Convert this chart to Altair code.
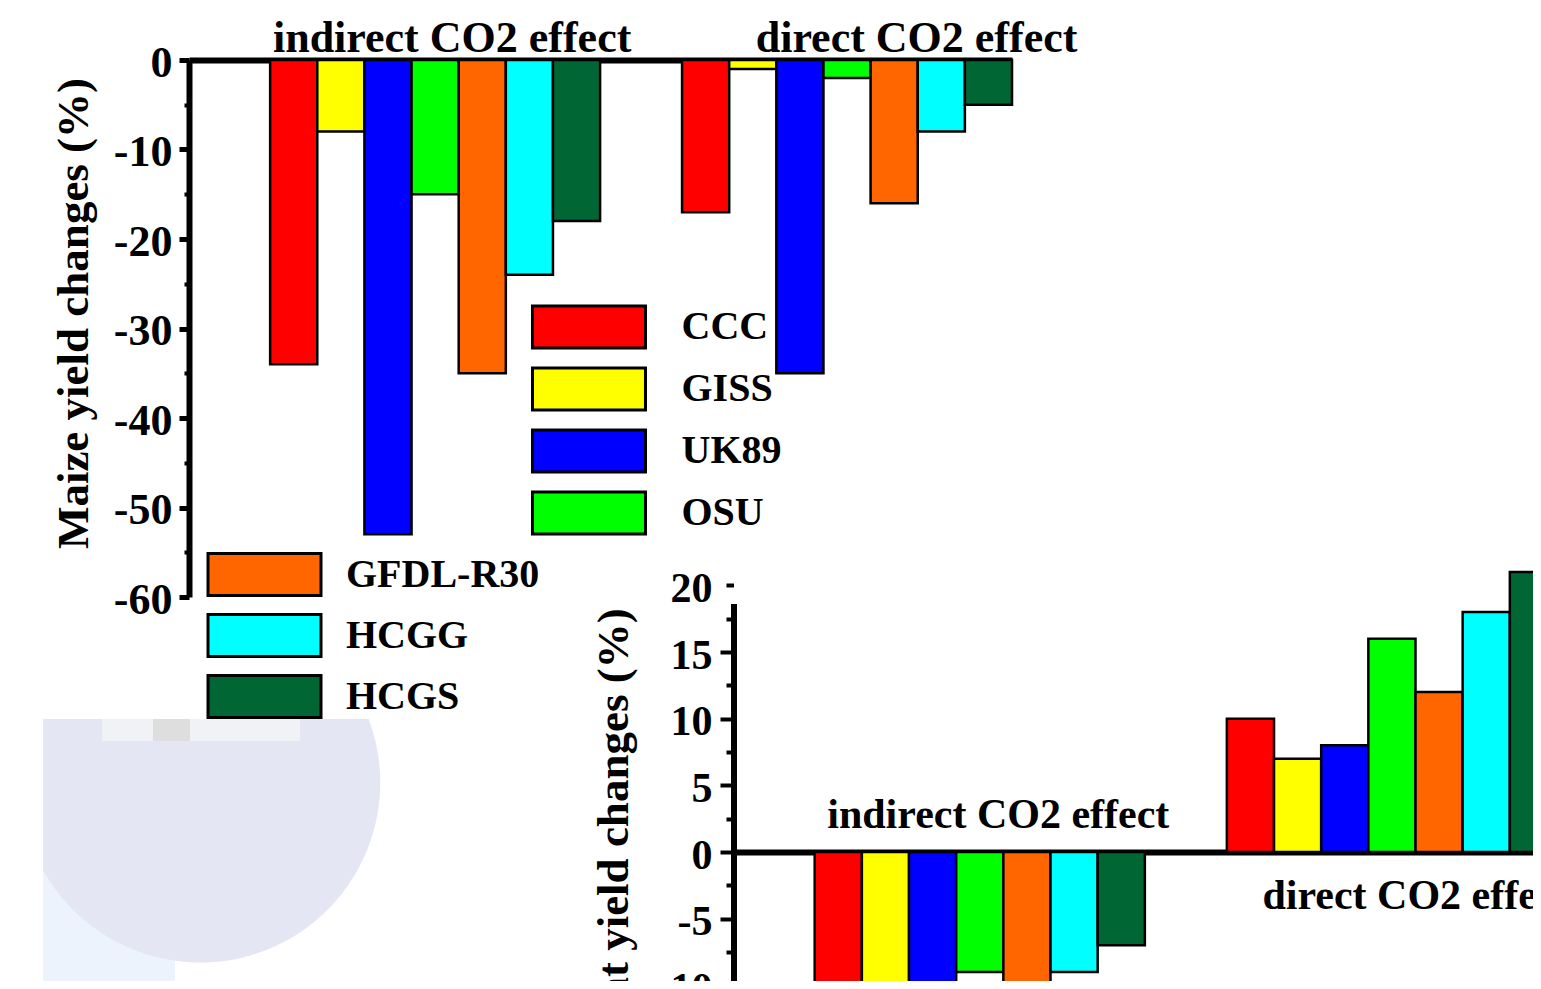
import altair as alt
import pandas as pd

FONT = "Liberation Serif"

models = ["CCC", "GISS", "UK89", "OSU", "GFDL-R30", "HCGG", "HCGS"]
colors = ["#ff0000", "#ffff00", "#0000ff", "#00ff00", "#ff6600", "#00ffff", "#006633"]
groups = ["indirect CO2 effect", "direct CO2 effect"]

maize_indirect = [-34, -8, -53, -15, -35, -24, -18]
maize_direct = [-17, -1, -35, -2, -16, -8, -5]
wheat_indirect = [-15, -13, -16, -9, -14, -9, -7]
wheat_direct = [10, 7, 8, 16, 12, 18, 21]

maize_ticks = [0, -10, -20, -30, -40, -50, -60]
maize_minor = [-5, -15, -25, -35, -45, -55]
wheat_ticks = [15, 10, 5, 0, -5, -10, -15]
wheat_minor = [20, 17.5, 12.5, 7.5, 2.5, -2.5, -7.5, -12.5, -17.5]

legend_top = ["CCC", "GISS", "UK89", "OSU"]
legend_bottom = ["GFDL-R30", "HCGG", "HCGS"]

maize_df = pd.DataFrame({
    "group": [groups[0]] * len(models) + [groups[1]] * len(models),
    "model": models * 2,
    "value": maize_indirect + maize_direct,
})
wheat_df = pd.DataFrame({
    "group": [groups[0]] * len(models) + [groups[1]] * len(models),
    "model": models * 2,
    "value": wheat_indirect + wheat_direct,
})
lab_df = pd.DataFrame({"group": groups, "value": [0, 0]})

LABEL_EXPR = "datum.value < 0 ? '-' + abs(datum.value) : '' + datum.value"

def xscale(r0, r1):
    return alt.Scale(domain=groups, range=[r0, r1], paddingInner=0.199,
                     paddingOuter=0.0985, align=1)

xs_m = xscale(181, 1004)
xs_w = xscale(725.5, 1549)
ys_m = alt.Scale(domain=[-60, 0], range=[589, 52], nice=False, zero=False)
ys_w = alt.Scale(domain=[-19, 18.65], range=[1097.3, 595.4], nice=False, zero=False)
ys_w_minor = alt.Scale(domain=[-19, 20], range=[1097.3, 577.4], nice=False, zero=False)
off_scale = alt.Scale(paddingInner=0, paddingOuter=0)
cs = alt.Scale(domain=models, range=colors)

SYMBOL = "M-2.69,-1H2.69V1H-2.69Z"

def legend(values, lx, ly, loff, rpad):
    return alt.Legend(values=values, orient="none", legendX=lx, legendY=ly, title=None,
                      direction="vertical", symbolType=SYMBOL, symbolSize=1764,
                      symbolStrokeColor="black", symbolStrokeWidth=3, symbolOpacity=1,
                      labelFont=FONT, labelFontSize=40, labelFontWeight="bold",
                      labelColor="black", labelOffset=loff, labelLimit=400,
                      rowPadding=rpad, padding=0)

def xaxis(off):
    return alt.Axis(orient="top", offset=off, labels=False, ticks=False, title=None,
                    grid=False, domainColor="black", domainWidth=6)

maize_yaxis = alt.Axis(orient="left", offset=-181, values=maize_ticks,
                       title="Maize yield changes (%)", grid=False,
                       domainColor="black", domainWidth=6, tickColor="black",
                       tickWidth=5, tickSize=10, labelFont=FONT, labelFontSize=44,
                       labelFontWeight="bold", labelColor="black", labelPadding=7,
                       labelOffset=3, labelExpr=LABEL_EXPR,
                       titleFont=FONT, titleFontSize=45, titleFontWeight="bold",
                       titleColor="black", titlePadding=17, titleY=305)
wheat_yaxis = alt.Axis(orient="left", offset=-725.5, values=wheat_ticks,
                       title="Wheat yield changes (%)", grid=False,
                       domainColor="black", domainWidth=6, tickColor="black",
                       tickWidth=4, tickSize=13.5, labelFont=FONT, labelFontSize=42,
                       labelFontWeight="bold", labelColor="black", labelPadding=8,
                       labelOffset=3, labelExpr=LABEL_EXPR,
                       titleFont=FONT, titleFontSize=45, titleFontWeight="bold",
                       titleColor="black", titlePadding=20, titleY=840.5)

def minor_axis(off, vals, size, width, label_expr="''", lpad=2, lsize=42):
    return alt.Axis(orient="left", offset=off, values=vals, labels=True,
                    labelExpr=label_expr, labelFont=FONT, labelFontSize=lsize,
                    labelFontWeight="bold", labelColor="black", labelPadding=lpad,
                    labelOffset=3, domain=False, grid=False, title=None,
                    tickColor="black", tickWidth=width, tickSize=size)

def panel(df, xs, ys, xax, yax, leg, labels):
    bars = alt.Chart(df).mark_bar(stroke="black", strokeWidth=2.5, opacity=1).encode(
        x=alt.X("group:N", sort=groups, scale=xs, axis=xax),
        xOffset=alt.XOffset("model:N", sort=models, scale=off_scale),
        y=alt.Y("value:Q", scale=ys, axis=yax),
        color=alt.Color("model:N", sort=models, scale=cs, legend=leg),
    )
    layers = [bars]
    for g, dx, dy, size in labels:
        t = alt.Chart(lab_df).transform_filter(alt.datum.group == g).mark_text(
            dx=dx, dy=dy, font=FONT, fontSize=size, fontWeight="bold",
            color="black", baseline="alphabetic", align="center"
        ).encode(
            x=alt.X("group:N", sort=groups, scale=xs, axis=xax),
            y=alt.Y("value:Q", scale=ys, axis=yax),
            text="group:N",
        )
        layers.append(t)
    return alt.layer(*layers)

# faint watermark logo behind the lower-left corner (decoration only)
WATERMARK = "M-0.872,-0.35L0.937,-0.35A1,1 0 0,1 -0.872,0.49Z"
wm_df = pd.DataFrame({"k": [0]})
watermark = alt.Chart(wm_df).mark_point(
    shape=WATERMARK, size=129600, filled=True, fill="#e4e7f3", opacity=1,
    strokeWidth=0
).encode(x=alt.value(192), y=alt.value(774))
strip = alt.Chart(wm_df).mark_point(
    shape="M-1,-1H1V1H-1Z", size=17424, filled=True, fill="#edf3fc", opacity=1,
    strokeWidth=0
).encode(x=alt.value(101), y=alt.value(923))
band = alt.Chart(wm_df).mark_point(
    shape="M-9,-1H9V1H-9Z", size=484, filled=True, fill="#f1f2f6", opacity=1,
    strokeWidth=0
).encode(x=alt.value(193), y=alt.value(722))
block = alt.Chart(wm_df).mark_point(
    shape="M-1,-0.6H1V0.6H-1Z", size=1369, filled=True, fill="#dedede", opacity=1,
    strokeWidth=0
).encode(x=alt.value(163.5), y=alt.value(722))

maize = panel(maize_df, xs_m, ys_m, xaxis(-52), maize_yaxis,
              legend(legend_top, 558.5, 296.5, 70, 7),
              [(groups[0], 17, -8, 44), (groups[1], 69.5, -8, 44)])
wheat = panel(wheat_df, xs_w, ys_w, xaxis(-844), wheat_yaxis,
              legend(legend_bottom, 234, 544, 59, 6),
              [(groups[0], 18.5, -24, 42), (groups[1], 24, 57, 42)])

minor_m = alt.Chart(maize_df).mark_bar(opacity=0).encode(
    x=alt.X("group:N", sort=groups, scale=xs_m, axis=None),
    y=alt.Y("value:Q", scale=ys_m, axis=minor_axis(-181, maize_minor, 5, 4)),
)
minor_w = alt.Chart(wheat_df).mark_bar(opacity=0).encode(
    x=alt.X("group:N", sort=groups, scale=xs_w, axis=None),
    y=alt.Y("value:Q", scale=ys_w_minor,
            axis=minor_axis(-725.5, wheat_minor, 7.5, 4,
                            label_expr="datum.value == 20 ? '20' : ''", lpad=14)),
)

chart = alt.layer(strip, watermark, band, block, maize, minor_m, wheat, minor_w).resolve_scale(
    x="independent", y="independent", color="independent", xOffset="independent"
).resolve_axis(x="independent", y="independent").resolve_legend(
    color="independent"
).properties(
    width=1525, height=973, padding=0, background="white",
    autosize=alt.AutoSizeParams(type="none"),
).configure_view(stroke=None)

chart.save("out.html", embed_options={"renderer": "svg", "actions": False})
